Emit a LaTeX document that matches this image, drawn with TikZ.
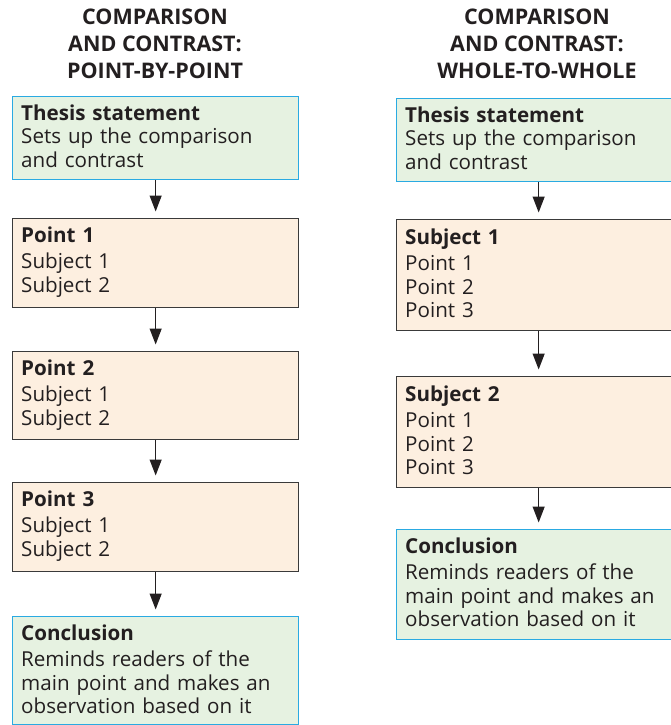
\documentclass[tikz,border=0pt]{standalone}
\usepackage{fontspec}
\setmainfont{Open Sans}
\usetikzlibrary{arrows.meta}
\definecolor{greenfill}{HTML}{E6F2E1}
\definecolor{blueline}{HTML}{2AAAE2}
\definecolor{beigefill}{HTML}{FDEFE0}
\definecolor{greyline}{HTML}{3A3A3A}
\definecolor{inkc}{HTML}{231F20}
\tikzset{
  greenbox/.style={draw=blueline, fill=greenfill, line width=1.3pt, rectangle, inner sep=0pt, anchor=north west},
  beigebox/.style={draw=greyline, fill=beigefill, line width=1.3pt, rectangle, inner sep=0pt, anchor=north west},
  txt/.style={anchor=base west, inner sep=0pt, text width=275pt, align=left, text=inkc,
    font=\fontsize{20.6}{23.5}\selectfont},
  ttl/.style={anchor=base, inner sep=0pt, text=inkc, font=\fontsize{21.5}{26}\selectfont\bfseries},
  flow/.style={draw=inkc, line width=1.2pt, -{Triangle[width=12pt,length=16pt]}, shorten >=6.5pt}
}
\begin{document}
\begin{tikzpicture}[x=1pt,y=-1pt]
\useasboundingbox (0,0) rectangle (670,725);
% titles
\node[ttl] (lt1) at (155,25) {COMPARISON};
\node[ttl] (lt2) at (155,52) {AND CONTRAST:};
\node[ttl] (lt3) at (155,78) {POINT-BY-POINT};
\node[ttl] (rt1) at (537,25) {COMPARISON};
\node[ttl] (rt2) at (537,52) {AND CONTRAST:};
\node[ttl] (rt3) at (537,78) {WHOLE-TO-WHOLE};
% left column boxes
\node[greenbox, minimum width=286pt, minimum height=83pt] (lth) at (12,96) {};
\node[beigebox, minimum width=286pt, minimum height=89pt] (lp1) at (12,218) {};
\node[beigebox, minimum width=286pt, minimum height=88pt] (lp2) at (12,351) {};
\node[beigebox, minimum width=286pt, minimum height=89pt] (lp3) at (12,482) {};
\node[greenbox, minimum width=286pt, minimum height=108pt] (lco) at (12,616) {};
% right column boxes
\node[greenbox, minimum width=284pt, minimum height=83pt] (rth) at (396,98) {};
\node[beigebox, minimum width=284pt, minimum height=111pt] (rs1) at (396,219) {};
\node[beigebox, minimum width=284pt, minimum height=111pt] (rs2) at (396,376) {};
\node[greenbox, minimum width=284pt, minimum height=110pt] (rco) at (396,529) {};
% left texts
\node[txt] (lthT) at (21,120) {\textbf{Thesis statement}\\Sets up the comparison\\and contrast};
\node[txt] (lp1T) at (21,242) {\textbf{Point 1}\\[3pt]Subject 1\\Subject 2};
\node[txt] (lp2T) at (21,375) {\textbf{Point 2}\\[3pt]Subject 1\\Subject 2};
\node[txt] (lp3T) at (21,506) {\textbf{Point 3}\\[3pt]Subject 1\\Subject 2};
\node[txt] (lcoT) at (21,640) {\textbf{Conclusion}\\[3pt]Reminds readers of the\\main point and makes an\\observation based on it};
% right texts
\node[txt] (rthT) at (405,122) {\textbf{Thesis statement}\\Sets up the comparison\\and contrast};
\node[txt] (rs1T) at (405,244) {\textbf{Subject 1}\\[3pt]Point 1\\Point 2\\Point 3};
\node[txt] (rs2T) at (405,401) {\textbf{Subject 2}\\[3pt]Point 1\\Point 2\\Point 3};
\node[txt] (rcoT) at (405,553) {\textbf{Conclusion}\\[3pt]Reminds readers of the\\main point and makes an\\observation based on it};
% connectors
\draw[flow] (lth.south) -- (lp1.north);
\draw[flow] (lp1.south) -- (lp2.north);
\draw[flow] (lp2.south) -- (lp3.north);
\draw[flow] (lp3.south) -- (lco.north);
\draw[flow] (rth.south) -- (rs1.north);
\draw[flow] (rs1.south) -- (rs2.north);
\draw[flow] (rs2.south) -- (rco.north);
\end{tikzpicture}
\end{document}
